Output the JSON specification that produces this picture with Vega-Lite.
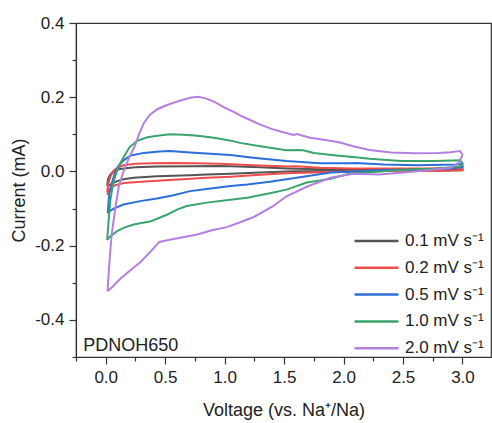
{
  "$schema": "https://vega.github.io/schema/vega-lite/v6.json",
  "width": 415,
  "height": 334,
  "autosize": {"type": "none"},
  "padding": {"left": 76, "top": 23, "right": 1, "bottom": 66},
  "config": {
    "view": {"stroke": "#333333", "strokeWidth": 1.2},
    "axis": {
      "grid": false,
      "domainColor": "#333333",
      "domainWidth": 1.2,
      "tickColor": "#333333",
      "tickWidth": 1.2,
      "tickCount": 100,
      "labelFont": "Liberation Sans",
      "labelFontSize": 17,
      "labelColor": "#222222",
      "labelPadding": 5,
      "titleFont": "Liberation Sans",
      "titleFontSize": 18,
      "titleFontWeight": "normal",
      "titleColor": "#222222"
    },
    "legend": {
      "labelFont": "Liberation Sans",
      "labelFontSize": 17,
      "labelColor": "#222222"
    }
  },
  "layer": [
    {
      "data": {
        "values": [
          {"r":"0.1","v":0.012,"c":-0.038},{"r":"0.1","v":0.02,"c":-0.02},{"r":"0.1","v":0.04,"c":-0.008},{"r":"0.1","v":0.067,"c":0.001},{"r":"0.1","v":0.1,"c":0.005},{"r":"0.1","v":0.15,"c":0.008},{"r":"0.1","v":0.25,"c":0.011},{"r":"0.1","v":0.43,"c":0.013},{"r":"0.1","v":0.71,"c":0.014},{"r":"0.1","v":0.96,"c":0.015},{"r":"0.1","v":1.05,"c":0.014},{"r":"0.1","v":1.3,"c":0.011},{"r":"0.1","v":1.52,"c":0.008},{"r":"0.1","v":1.8,"c":0.006},{"r":"0.1","v":2.1,"c":0.006},{"r":"0.1","v":2.5,"c":0.005},{"r":"0.1","v":2.8,"c":0.005},{"r":"0.1","v":3.0,"c":0.006},
          {"r":"0.1","v":3.0,"c":0.003},{"r":"0.1","v":2.8,"c":0.002},{"r":"0.1","v":2.5,"c":0.003},{"r":"0.1","v":2.1,"c":0.003},{"r":"0.1","v":1.8,"c":0.002},{"r":"0.1","v":1.52,"c":0.0},{"r":"0.1","v":1.3,"c":-0.003},{"r":"0.1","v":1.05,"c":-0.006},{"r":"0.1","v":0.85,"c":-0.008},{"r":"0.1","v":0.71,"c":-0.01},{"r":"0.1","v":0.43,"c":-0.013},{"r":"0.1","v":0.235,"c":-0.017},{"r":"0.1","v":0.15,"c":-0.021},{"r":"0.1","v":0.096,"c":-0.026},{"r":"0.1","v":0.054,"c":-0.032},{"r":"0.1","v":0.03,"c":-0.037},{"r":"0.1","v":0.012,"c":-0.042},

          {"r":"0.2","v":0.012,"c":-0.055},{"r":"0.2","v":0.02,"c":-0.035},{"r":"0.2","v":0.04,"c":-0.013},{"r":"0.2","v":0.067,"c":0.002},{"r":"0.2","v":0.1,"c":0.01},{"r":"0.2","v":0.15,"c":0.017},{"r":"0.2","v":0.25,"c":0.021},{"r":"0.2","v":0.4,"c":0.022},{"r":"0.2","v":0.57,"c":0.023},{"r":"0.2","v":0.75,"c":0.022},{"r":"0.2","v":0.96,"c":0.021},{"r":"0.2","v":1.1,"c":0.019},{"r":"0.2","v":1.3,"c":0.016},{"r":"0.2","v":1.52,"c":0.013},{"r":"0.2","v":1.6,"c":0.014},{"r":"0.2","v":1.8,"c":0.01},{"r":"0.2","v":2.08,"c":0.008},{"r":"0.2","v":2.4,"c":0.008},{"r":"0.2","v":2.7,"c":0.008},{"r":"0.2","v":2.95,"c":0.01},{"r":"0.2","v":3.0,"c":0.012},
          {"r":"0.2","v":3.0,"c":0.004},{"r":"0.2","v":2.8,"c":0.002},{"r":"0.2","v":2.5,"c":0.002},{"r":"0.2","v":2.08,"c":0.0},{"r":"0.2","v":1.8,"c":-0.002},{"r":"0.2","v":1.52,"c":-0.005},{"r":"0.2","v":1.3,"c":-0.009},{"r":"0.2","v":1.05,"c":-0.014},{"r":"0.2","v":0.85,"c":-0.017},{"r":"0.2","v":0.65,"c":-0.021},{"r":"0.2","v":0.5,"c":-0.024},{"r":"0.2","v":0.3,"c":-0.028},{"r":"0.2","v":0.15,"c":-0.031},{"r":"0.2","v":0.08,"c":-0.037},{"r":"0.2","v":0.04,"c":-0.045},{"r":"0.2","v":0.025,"c":-0.05},{"r":"0.2","v":0.012,"c":-0.063},

          {"r":"0.5","v":0.017,"c":-0.113},{"r":"0.5","v":0.022,"c":-0.09},{"r":"0.5","v":0.03,"c":-0.06},{"r":"0.5","v":0.054,"c":-0.03},{"r":"0.5","v":0.075,"c":-0.005},{"r":"0.5","v":0.1,"c":0.012},{"r":"0.5","v":0.15,"c":0.03},{"r":"0.5","v":0.21,"c":0.043},{"r":"0.5","v":0.32,"c":0.05},{"r":"0.5","v":0.45,"c":0.054},{"r":"0.5","v":0.54,"c":0.055},{"r":"0.5","v":0.71,"c":0.051},{"r":"0.5","v":0.88,"c":0.048},{"r":"0.5","v":1.05,"c":0.044},{"r":"0.5","v":1.24,"c":0.037},{"r":"0.5","v":1.52,"c":0.028},{"r":"0.5","v":1.8,"c":0.022},{"r":"0.5","v":2.06,"c":0.022},{"r":"0.5","v":2.1,"c":0.023},{"r":"0.5","v":2.34,"c":0.019},{"r":"0.5","v":2.62,"c":0.017},{"r":"0.5","v":2.95,"c":0.019},{"r":"0.5","v":3.0,"c":0.02},
          {"r":"0.5","v":3.0,"c":0.012},{"r":"0.5","v":2.9,"c":0.008},{"r":"0.5","v":2.76,"c":0.006},{"r":"0.5","v":2.34,"c":0.004},{"r":"0.5","v":2.06,"c":-0.001},{"r":"0.5","v":1.89,"c":-0.003},{"r":"0.5","v":1.66,"c":-0.014},{"r":"0.5","v":1.38,"c":-0.028},{"r":"0.5","v":1.19,"c":-0.035},{"r":"0.5","v":1.05,"c":-0.039},{"r":"0.5","v":0.85,"c":-0.047},{"r":"0.5","v":0.71,"c":-0.053},{"r":"0.5","v":0.57,"c":-0.064},{"r":"0.5","v":0.43,"c":-0.073},{"r":"0.5","v":0.29,"c":-0.08},{"r":"0.5","v":0.15,"c":-0.089},{"r":"0.5","v":0.067,"c":-0.1},{"r":"0.5","v":0.03,"c":-0.108},{"r":"0.5","v":0.017,"c":-0.113},

          {"r":"1.0","v":0.012,"c":-0.185},{"r":"1.0","v":0.025,"c":-0.13},{"r":"1.0","v":0.04,"c":-0.075},{"r":"1.0","v":0.06,"c":-0.035},{"r":"1.0","v":0.08,"c":-0.013},{"r":"1.0","v":0.11,"c":0.015},{"r":"1.0","v":0.15,"c":0.038},{"r":"1.0","v":0.2,"c":0.065},{"r":"1.0","v":0.26,"c":0.082},{"r":"1.0","v":0.35,"c":0.092},{"r":"1.0","v":0.45,"c":0.097},{"r":"1.0","v":0.54,"c":0.1},{"r":"1.0","v":0.65,"c":0.099},{"r":"1.0","v":0.75,"c":0.097},{"r":"1.0","v":0.88,"c":0.092},{"r":"1.0","v":0.96,"c":0.088},{"r":"1.0","v":1.05,"c":0.083},{"r":"1.0","v":1.13,"c":0.077},{"r":"1.0","v":1.3,"c":0.068},{"r":"1.0","v":1.52,"c":0.057},{"r":"1.0","v":1.62,"c":0.058},{"r":"1.0","v":1.66,"c":0.057},{"r":"1.0","v":1.75,"c":0.05},{"r":"1.0","v":1.94,"c":0.043},{"r":"1.0","v":2.1,"c":0.038},{"r":"1.0","v":2.22,"c":0.034},{"r":"1.0","v":2.48,"c":0.028},{"r":"1.0","v":2.76,"c":0.028},{"r":"1.0","v":2.98,"c":0.03},{"r":"1.0","v":3.0,"c":0.022},
          {"r":"1.0","v":2.98,"c":0.013},{"r":"1.0","v":2.76,"c":0.007},{"r":"1.0","v":2.48,"c":0.004},{"r":"1.0","v":2.22,"c":-0.002},{"r":"1.0","v":2.06,"c":-0.005},{"r":"1.0","v":1.89,"c":-0.02},{"r":"1.0","v":1.69,"c":-0.03},{"r":"1.0","v":1.52,"c":-0.049},{"r":"1.0","v":1.38,"c":-0.059},{"r":"1.0","v":1.19,"c":-0.071},{"r":"1.0","v":1.05,"c":-0.076},{"r":"1.0","v":0.85,"c":-0.084},{"r":"1.0","v":0.68,"c":-0.093},{"r":"1.0","v":0.6,"c":-0.103},{"r":"1.0","v":0.52,"c":-0.116},{"r":"1.0","v":0.38,"c":-0.134},{"r":"1.0","v":0.235,"c":-0.143},{"r":"1.0","v":0.15,"c":-0.152},{"r":"1.0","v":0.096,"c":-0.161},{"r":"1.0","v":0.05,"c":-0.172},{"r":"1.0","v":0.025,"c":-0.179},{"r":"1.0","v":0.012,"c":-0.185},

          {"r":"2.0","v":0.015,"c":-0.323},{"r":"2.0","v":0.03,"c":-0.25},{"r":"2.0","v":0.05,"c":-0.17},{"r":"2.0","v":0.08,"c":-0.1},{"r":"2.0","v":0.11,"c":-0.04},{"r":"2.0","v":0.15,"c":0.0},{"r":"2.0","v":0.2,"c":0.04},{"r":"2.0","v":0.24,"c":0.065},{"r":"2.0","v":0.28,"c":0.1},{"r":"2.0","v":0.32,"c":0.13},{"r":"2.0","v":0.37,"c":0.152},{"r":"2.0","v":0.43,"c":0.167},{"r":"2.0","v":0.5,"c":0.177},{"r":"2.0","v":0.57,"c":0.185},{"r":"2.0","v":0.65,"c":0.193},{"r":"2.0","v":0.72,"c":0.199},{"r":"2.0","v":0.78,"c":0.201},{"r":"2.0","v":0.84,"c":0.197},{"r":"2.0","v":0.91,"c":0.188},{"r":"2.0","v":1.0,"c":0.172},{"r":"2.0","v":1.08,"c":0.16},{"r":"2.0","v":1.15,"c":0.148},{"r":"2.0","v":1.22,"c":0.138},{"r":"2.0","v":1.3,"c":0.126},{"r":"2.0","v":1.4,"c":0.114},{"r":"2.0","v":1.5,"c":0.105},{"r":"2.0","v":1.58,"c":0.098},{"r":"2.0","v":1.61,"c":0.101},{"r":"2.0","v":1.65,"c":0.097},{"r":"2.0","v":1.72,"c":0.091},{"r":"2.0","v":1.86,"c":0.084},{"r":"2.0","v":1.97,"c":0.078},{"r":"2.0","v":2.08,"c":0.068},{"r":"2.0","v":2.22,"c":0.058},{"r":"2.0","v":2.4,"c":0.051},{"r":"2.0","v":2.6,"c":0.049},{"r":"2.0","v":2.8,"c":0.05},{"r":"2.0","v":2.9,"c":0.052},{"r":"2.0","v":2.98,"c":0.055},{"r":"2.0","v":3.0,"c":0.045},
          {"r":"2.0","v":2.97,"c":0.023},{"r":"2.0","v":2.9,"c":0.01},{"r":"2.0","v":2.6,"c":0.0},{"r":"2.0","v":2.3,"c":-0.008},{"r":"2.0","v":2.08,"c":-0.006},{"r":"2.0","v":1.89,"c":-0.017},{"r":"2.0","v":1.7,"c":-0.04},{"r":"2.0","v":1.52,"c":-0.067},{"r":"2.0","v":1.4,"c":-0.095},{"r":"2.0","v":1.25,"c":-0.122},{"r":"2.0","v":1.13,"c":-0.137},{"r":"2.0","v":1.02,"c":-0.15},{"r":"2.0","v":0.9,"c":-0.158},{"r":"2.0","v":0.77,"c":-0.17},{"r":"2.0","v":0.57,"c":-0.182},{"r":"2.0","v":0.45,"c":-0.19},{"r":"2.0","v":0.38,"c":-0.215},{"r":"2.0","v":0.29,"c":-0.245},{"r":"2.0","v":0.2,"c":-0.268},{"r":"2.0","v":0.12,"c":-0.29},{"r":"2.0","v":0.06,"c":-0.31},{"r":"2.0","v":0.015,"c":-0.323}
        ]
      },
      "mark": {"type": "line", "strokeWidth": 2, "clip": true},
      "encoding": {
        "x": {
          "field": "v", "type": "quantitative",
          "scale": {"domain": [-0.25, 3.24], "nice": false, "zero": false},
          "axis": {
            "title": "Voltage (vs. Na⁺/Na)",
            "values": [-0.25, 0, 0.25, 0.5, 0.75, 1, 1.25, 1.5, 1.75, 2, 2.25, 2.5, 2.75, 3],
            "tickCount": 100,
            "labelExpr": "round(datum.value*4) % 2 == 0 ? format(datum.value, '.1f') : ''",
            "tickSize": {"condition": {"test": "round(datum.value*4) % 2 == 0", "value": 7}, "value": 4},
            "titlePadding": 16
          }
        },
        "y": {
          "field": "c", "type": "quantitative",
          "scale": {"domain": [-0.5, 0.4], "nice": false, "zero": false},
          "axis": {
            "title": "Current (mA)",
            "values": [-0.5, -0.4, -0.3, -0.2, -0.1, 0, 0.1, 0.2, 0.3, 0.4],
            "tickCount": 100,
            "labelExpr": "abs(round(datum.value*10)) % 2 == 0 ? (datum.value < -0.001 ? '-' : '') + format(abs(datum.value), '.1f') : ''",
            "tickSize": {"condition": {"test": "abs(round(datum.value*10)) % 2 == 0", "value": 7}, "value": 4},
            "titlePadding": 6
          }
        },
        "color": {
          "field": "r", "type": "nominal",
          "scale": {"domain": ["0.1", "0.2", "0.5", "1.0", "2.0"], "range": ["#555555", "#f04c4c", "#2c6fd8", "#3ba46c", "#b380e2"]},
          "legend": {
            "title": null,
            "orient": "none",
            "legendX": 277,
            "legendY": 210,
            "symbolType": "stroke",
            "symbolSize": 1936,
            "symbolStrokeWidth": 2.5,
            "clipHeight": 16,
            "rowPadding": 9.8,
            "labelOffset": 5,
            "labelExpr": "datum.label + ' mV s⁻¹'"
          }
        },
        "order": {"value": null}
      }
    },
    {
      "data": {"values": [{"v": -0.19, "c": -0.484, "t": "PDNOH650"}]},
      "mark": {"type": "text", "align": "left", "baseline": "alphabetic", "font": "Liberation Sans", "fontSize": 18, "color": "#222222"},
      "encoding": {
        "x": {"field": "v", "type": "quantitative"},
        "y": {"field": "c", "type": "quantitative"},
        "text": {"field": "t"}
      }
    }
  ]
}
